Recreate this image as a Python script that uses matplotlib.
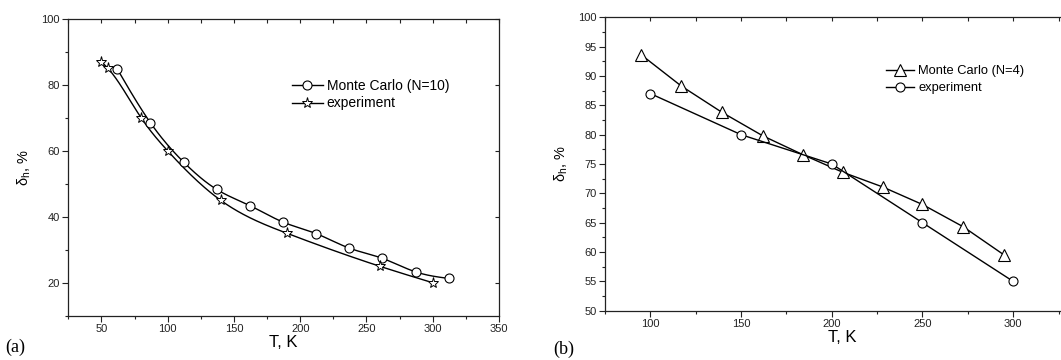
import numpy as np
import matplotlib
matplotlib.use("Agg")
import matplotlib.pyplot as plt
from matplotlib.ticker import MultipleLocator, NullLocator

plt.rcParams['font.family'] = ['Liberation Sans', 'DejaVu Sans']

# ---- Panel (a) data ----
a_mc_T = [62, 87, 112, 137, 162, 187, 212, 237, 262, 287, 312]
a_mc_d = [84.8, 68.5, 56.6, 48.3, 43.4, 38.4, 34.9, 30.5, 27.4, 23.3, 21.3]
a_exp_T = [50, 55, 80, 100, 140, 190, 260, 300]
a_exp_d = [87, 85, 70, 60, 45, 35, 25, 20]

# ---- Panel (b) data ----
b_mc_T = [95, 117, 139.5, 162, 184, 206, 228, 250, 272.5, 295]
b_mc_d = [93.6, 88.3, 83.8, 79.8, 76.6, 73.6, 71.1, 68.1, 64.3, 59.5]
b_exp_T = [100, 150, 200, 250, 300]
b_exp_d = [87, 80, 75, 65, 55]


def natural_spline(x, y, n=300):
    x = np.asarray(x, float)
    y = np.asarray(y, float)
    m = len(x)
    h = np.diff(x)
    A = np.zeros((m, m))
    r = np.zeros(m)
    A[0, 0] = 1
    A[-1, -1] = 1
    for i in range(1, m - 1):
        A[i, i - 1] = h[i - 1]
        A[i, i] = 2 * (h[i - 1] + h[i])
        A[i, i + 1] = h[i]
        r[i] = 3 * ((y[i + 1] - y[i]) / h[i] - (y[i] - y[i - 1]) / h[i - 1])
    c = np.linalg.solve(A, r)
    b = (y[1:] - y[:-1]) / h - h * (2 * c[:-1] + c[1:]) / 3
    d = (c[1:] - c[:-1]) / (3 * h)
    xs = np.linspace(x[0], x[-1], n)
    idx = np.clip(np.searchsorted(x, xs) - 1, 0, m - 2)
    dx = xs - x[idx]
    ys = y[idx] + b[idx] * dx + c[idx] * dx ** 2 + d[idx] * dx ** 3
    return xs, ys


fig = plt.figure(figsize=(10.61, 3.60), dpi=100)
W, H = 1061.0, 360.0


def style_axes(ax, xmaj, xmin, ymaj, ymin, right=True):
    for s in ax.spines.values():
        s.set_linewidth(0.9)
        s.set_color('#222222')
    ax.xaxis.set_major_locator(MultipleLocator(xmaj))
    ax.xaxis.set_minor_locator(MultipleLocator(xmin))
    ax.yaxis.set_major_locator(MultipleLocator(ymaj))
    ax.yaxis.set_minor_locator(MultipleLocator(ymin))
    ax.tick_params(which='major', direction='out', length=4, width=0.8,
                   labelsize=8, colors='#222222', pad=2)
    ax.tick_params(which='minor', direction='out', length=2.5, width=0.8,
                   colors='#222222')
    # top inward ticks
    tx = ax.twiny()
    tx.set_xlim(ax.get_xlim())
    tx.xaxis.set_major_locator(MultipleLocator(xmin))
    tx.xaxis.set_minor_locator(NullLocator())
    tx.tick_params(axis='x', which='major', direction='in', length=3, width=0.8,
                   labeltop=False, colors='#222222')
    tx.tick_params(axis='y', left=False, right=False, labelleft=False, labelright=False)
    for s in tx.spines.values():
        s.set_visible(False)
    if right:
        ty = ax.twinx()
        ty.set_ylim(ax.get_ylim())
        ty.yaxis.set_major_locator(MultipleLocator(ymaj))
        ty.yaxis.set_minor_locator(NullLocator())
        ty.tick_params(axis='y', which='major', direction='in', length=3, width=0.8,
                       labelright=False, colors='#222222')
        ty.tick_params(axis='x', top=False, bottom=False, labeltop=False, labelbottom=False)
        for s in ty.spines.values():
            s.set_visible(False)
    else:
        ax.spines['right'].set_visible(False)


mk_circle = dict(marker='o', ms=6.5, mfc='white', mec='black', mew=0.8)
mk_star = dict(marker='*', ms=8, mfc='white', mec='black', mew=0.7)
mk_tri = dict(marker='^', ms=8, mfc='white', mec='black', mew=0.8)

# Panel (a)
axa = fig.add_axes([68.3 / W, 1 - 315.7 / H, (499 - 68.3) / W, (315.7 - 19) / H])
xs, ys = natural_spline(a_mc_T, a_mc_d)
axa.plot(xs, ys, color='black', lw=1.0)
xs, ys = natural_spline(a_exp_T, a_exp_d)
axa.plot(xs, ys, color='black', lw=1.0)
axa.plot(a_mc_T, a_mc_d, ls='none', **mk_circle)
axa.plot(a_exp_T, a_exp_d, ls='none', **mk_star)
axa.plot([], [], color='black', lw=1.0, label='Monte Carlo (N=10)', **mk_circle)
axa.plot([], [], color='black', lw=1.0, label='experiment', **mk_star)
axa.set_xlim(25, 350)
axa.set_ylim(10, 100)
axa.set_xlabel('T, K', fontsize=12, labelpad=1)
axa.set_ylabel('δ$_\\mathregular{h}$, %', fontsize=10.5, labelpad=6)
axa.legend(loc='upper left', bbox_to_anchor=(292 / W, 1 - 79 / H),
           bbox_transform=fig.transFigure, frameon=False, fontsize=10,
           handlelength=2.2, handletextpad=0.3, labelspacing=0.25, borderaxespad=0,
           borderpad=0)
style_axes(axa, 50, 25, 20, 10)
fig.text(5 / W, 1 - 352 / H, '(a)', family='Liberation Serif', fontsize=13)

# Panel (b)
axb = fig.add_axes([605 / W, 1 - 310.7 / H, (1080 - 605) / W, (310.7 - 17.3) / H])
axb.plot(b_mc_T, b_mc_d, color='black', lw=1.0, label='Monte Carlo (N=4)', **mk_tri)
axb.plot(b_exp_T, b_exp_d, color='black', lw=1.0, label='experiment', **mk_circle)
axb.set_xlim(75, 75 + (1080 - 605) / 90.7 * 50)
axb.set_ylim(50, 100)
axb.set_xlabel('T, K', fontsize=12, labelpad=1)
axb.set_ylabel('δ$_\\mathregular{h}$, %', fontsize=10.5, labelpad=6)
axb.legend(loc='upper left', bbox_to_anchor=(886 / W, 1 - 65 / H),
           bbox_transform=fig.transFigure, frameon=False, fontsize=9.3,
           handlelength=2.2, handletextpad=0.3, labelspacing=0.4, borderaxespad=0,
           borderpad=0)
style_axes(axb, 50, 25, 5, 2.5, right=False)
fig.text(553 / W, 1 - 354 / H, '(b)', family='Liberation Serif', fontsize=13)

fig.savefig('out.png', dpi=100)
